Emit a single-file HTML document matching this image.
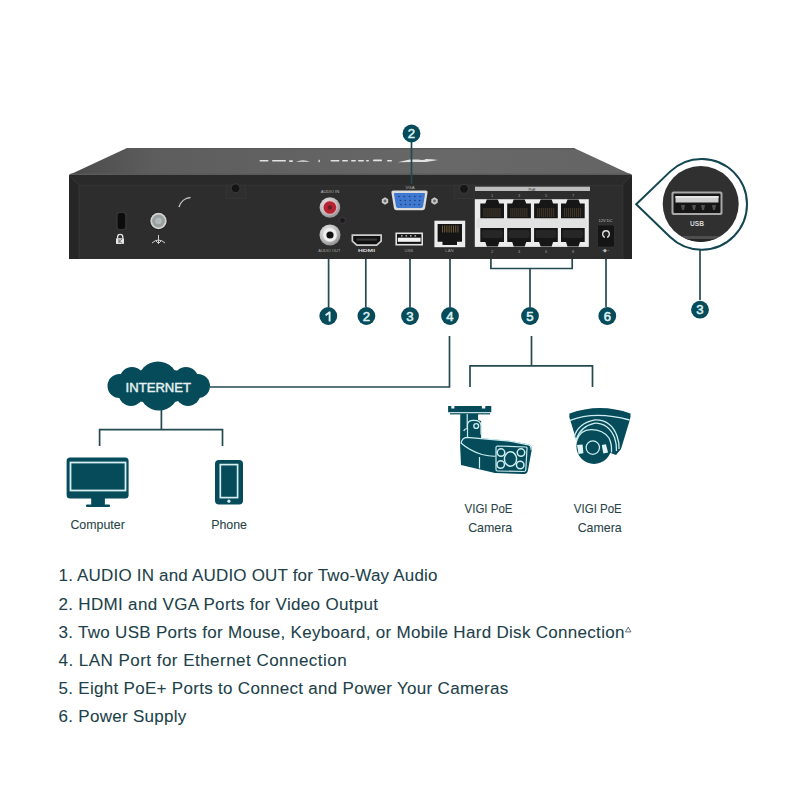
<!DOCTYPE html>
<html><head><meta charset="utf-8">
<style>
html,body{margin:0;padding:0;background:#fff;width:800px;height:800px;overflow:hidden}
svg{display:block;font-family:"Liberation Sans",sans-serif}
</style></head>
<body>
<svg width="800" height="800" viewBox="0 0 800 800">
<defs>
  <linearGradient id="topg" x1="0" y1="0" x2="1" y2="0">
    <stop offset="0" stop-color="#4a4a4a"/><stop offset="0.15" stop-color="#5d5d5d"/><stop offset="0.68" stop-color="#686868"/><stop offset="1" stop-color="#646464"/>
  </linearGradient>
  <radialGradient id="silver" cx="0.4" cy="0.35" r="0.7">
    <stop offset="0" stop-color="#f4f4f4"/><stop offset="0.6" stop-color="#bdbdbd"/><stop offset="1" stop-color="#8a8a8a"/>
  </radialGradient>
</defs>
<rect width="800" height="800" fill="#fff"/>

<!-- ============ DEVICE ============ -->
<g id="device">
  <polygon points="127,148 574,148 632,175 69,175" fill="url(#topg)"/>
  <polygon points="127,148 574,148 575,149.2 126,149.2" fill="#5a5a5a"/>
  <polygon points="71,173.5 630,173.5 632,175 69,175" fill="#5a5a5a"/>
  <rect x="69" y="175" width="563" height="84" fill="#2d2d2d"/>
  <!-- bevels -->
  <polygon points="69,175 632,175 622,185 79,185" fill="#2a2a2a"/>
  <polygon points="69,175 79,185 79,259 69,259" fill="#262626"/>
  <polygon points="632,175 622,185 622,259 632,259" fill="#242424"/>
  <line x1="79" y1="185.3" x2="622" y2="185.3" stroke="#363636" stroke-width="0.8"/>
  <line x1="79" y1="185" x2="79" y2="259" stroke="#373737" stroke-width="0.8"/>
  <line x1="622.8" y1="185" x2="622.8" y2="259" stroke="#3c3c3c" stroke-width="0.8"/>
  <line x1="69" y1="175" x2="79" y2="185" stroke="#3c3c3c" stroke-width="0.7"/>
  <line x1="632" y1="175" x2="622" y2="185" stroke="#3c3c3c" stroke-width="0.7"/>
  <!-- logo on top -->
  <g fill="#e2e2e2">
    <rect x="259.5" y="160" width="9" height="1.6" rx="0.8"/>
    <rect x="272" y="160" width="14" height="1.6" rx="0.8"/>
    <rect x="289" y="160.3" width="4" height="1.6" rx="0.8"/>
    <path d="M296,161.8 q7,-3 14,0 z"/>
    <rect x="318.5" y="159.8" width="1.3" height="2.4"/>
    <rect x="330.5" y="160" width="9" height="1.6" rx="0.8"/>
    <rect x="342" y="160" width="6" height="1.6" rx="0.8"/>
    <rect x="351" y="160" width="5" height="1.6" rx="0.8"/>
    <rect x="358" y="160" width="6" height="1.6" rx="0.8"/>
    <rect x="366" y="160" width="3" height="1.6" rx="0.8"/>
    <rect x="373" y="159.5" width="9" height="1.8" rx="0.8"/>
    <rect x="387" y="160" width="5" height="1.6" rx="0.8"/>
    <path d="M398,162.2 q6,-1.5 12,-2.6 h8 q6,0.8 8,-0.6 q6,0.2 12,1 q-6,0.8 -12,2 h-14 z"/>
  </g>
  <!-- screw tabs top -->
  <rect x="226" y="185" width="20" height="13.5" fill="#2f2f2f" stroke="#393939" stroke-width="0.6"/>
  <circle cx="235.6" cy="188.3" r="4.4" fill="#151515" stroke="#404040" stroke-width="0.8"/>
  <rect x="454" y="185" width="20" height="13.5" fill="#2f2f2f" stroke="#393939" stroke-width="0.6"/>
  <circle cx="464" cy="188.8" r="4.4" fill="#151515" stroke="#404040" stroke-width="0.8"/>
  <!-- kensington -->
  <rect x="116" y="211.5" width="11" height="19" rx="3" fill="#333"/>
  <rect x="117.7" y="213.1" width="7.4" height="15.8" rx="2.5" fill="#0c0c0c"/>
  <path d="M117.6,238.5 v-1.6 a2.6,2.6 0 0 1 5.2,0 v1.6" fill="none" stroke="#e4e4e4" stroke-width="1.3"/>
  <rect x="116" y="238.3" width="8" height="5.6" rx="0.6" fill="#e4e4e4"/>
  <path d="M119,239.2 v4 M122,239 l-2.5,2 l2.5,2.5" fill="none" stroke="#444" stroke-width="0.8"/>
  <!-- ground screw -->
  <circle cx="158.5" cy="221" r="9.2" fill="#222"/>
  <circle cx="158.5" cy="221" r="8.2" fill="#d2d2d2"/>
  <circle cx="158.5" cy="221" r="6.4" fill="#98a0a0"/>
  <circle cx="158.5" cy="221" r="3.2" fill="#b4baba"/>
  <path d="M158.5,235 v8.5 M152,243 q6.5,-6 13,0 M155.8,240.8 l2.7,2.7 l2.7,-2.7" fill="none" stroke="#cfcfcf" stroke-width="1"/>
  <path d="M179,207 a13,13 0 0 1 11.5,-9.5" fill="none" stroke="#c4c4c4" stroke-width="1.4"/>

  <!-- audio -->
  <text x="330" y="193.3" font-size="4.3" fill="#b8b8b8" text-anchor="middle" textLength="18.5" lengthAdjust="spacingAndGlyphs">AUDIO IN</text>
  <circle cx="329.9" cy="207.5" r="10.3" fill="url(#silver)"/>
  <circle cx="329.9" cy="207.5" r="7.2" fill="#e9b5b9"/>
  <circle cx="329.9" cy="207.5" r="6.3" fill="#b62434"/>
  <circle cx="329.9" cy="207.5" r="2.2" fill="#6a2020"/>
  <circle cx="342.4" cy="220.4" r="3" fill="#1a1a1a" stroke="#4a3d4a" stroke-width="0.8"/>
  <circle cx="330" cy="235" r="10.5" fill="url(#silver)"/>
  <circle cx="330" cy="235" r="6.8" fill="#f0f0f0"/>
  <circle cx="330" cy="235" r="3.6" fill="#121212"/>
  <text x="329.3" y="252.4" font-size="4.3" fill="#aaa" text-anchor="middle" textLength="22" lengthAdjust="spacingAndGlyphs">AUDIO OUT</text>

  <!-- VGA -->
  <text x="410" y="189" font-size="4.3" fill="#b8b8b8" text-anchor="middle">VGA</text>
  <path d="M393.5,190.6 h32 q2.4,0 2,2.4 l-2.4,15 q-0.4,2.3 -2.6,2.3 h-26 q-2.2,0 -2.6,-2.3 l-2.4,-15 q-0.4,-2.4 2,-2.4 z" fill="#dcdcdc"/>
  <path d="M395,193 h29 q1.2,0 1,1.2 l-2,12.4 q-0.3,1.4 -1.6,1.4 h-23.8 q-1.3,0 -1.6,-1.4 l-2,-12.4 q-0.2,-1.2 1,-1.2 z" fill="#3f78d0"/>
  <g fill="#1d3f7a">
    <circle cx="399" cy="196.5" r="0.8"/><circle cx="404.3" cy="196.5" r="0.8"/><circle cx="409.6" cy="196.5" r="0.8"/><circle cx="414.9" cy="196.5" r="0.8"/><circle cx="420.2" cy="196.5" r="0.8"/>
    <circle cx="400.5" cy="200.5" r="0.8"/><circle cx="405.3" cy="200.5" r="0.8"/><circle cx="410.1" cy="200.5" r="0.8"/><circle cx="414.9" cy="200.5" r="0.8"/><circle cx="419.7" cy="200.5" r="0.8"/>
    <circle cx="401" cy="204.5" r="0.8"/><circle cx="405.5" cy="204.5" r="0.8"/><circle cx="410" cy="204.5" r="0.8"/><circle cx="414.5" cy="204.5" r="0.8"/><circle cx="419" cy="204.5" r="0.8"/>
  </g>
  <polygon points="385,197.3 388.2,199.2 388.2,202.8 385,204.7 381.8,202.8 381.8,199.2" fill="#c9c9c9"/>
  <circle cx="385" cy="201" r="1.4" fill="#6a6a6a"/>
  <polygon points="434.5,197.3 437.7,199.2 437.7,202.8 434.5,204.7 431.3,202.8 431.3,199.2" fill="#c9c9c9"/>
  <circle cx="434.5" cy="201" r="1.4" fill="#6a6a6a"/>

  <!-- HDMI -->
  <path d="M351.5,234.2 h30.5 v7.2 l-5,4.5 h-20.5 l-5,-4.5 z" fill="#cdcdcd"/>
  <path d="M353.2,235.9 h27.1 v4.8 l-4,3.6 h-19.1 l-4,-3.6 z" fill="#101010"/>
  <rect x="356.5" y="238.5" width="20.5" height="2.2" fill="#3a3a3a"/>
  <text x="366.5" y="252.2" font-size="4.2" font-weight="bold" fill="#dedede" text-anchor="middle" textLength="17" lengthAdjust="spacingAndGlyphs">HDMI</text>

  <!-- USB -->
  <rect x="395.4" y="232.5" width="27.6" height="13" fill="#e2e2e2"/>
  <rect x="397" y="234.1" width="24.4" height="9.8" fill="#121212"/>
  <rect x="397.8" y="237.7" width="22.8" height="4.1" fill="#f2f2f2"/>
  <g fill="#d8d8d8"><rect x="401" y="235.3" width="1.6" height="1.2"/><rect x="405.5" y="235.3" width="1.6" height="1.2"/><rect x="410" y="235.3" width="1.6" height="1.2"/><rect x="414.5" y="235.3" width="1.6" height="1.2"/></g>
  <text x="408.8" y="252.2" font-size="4.3" fill="#999" text-anchor="middle">USB</text>

  <!-- LAN -->
  <rect x="434.4" y="220.7" width="30.8" height="26.5" fill="#ececec"/>
  <path d="M437.6,224 h24.4 v17.8 h-5 v3.2 h-14.5 v-3.2 h-4.9 z" fill="#151515"/>
  <g fill="#6d5a35"><rect x="442" y="225.5" width="1" height="7"/><rect x="444.2" y="225.5" width="1" height="7"/><rect x="446.4" y="225.5" width="1" height="7"/><rect x="448.6" y="225.5" width="1" height="7"/><rect x="450.8" y="225.5" width="1" height="7"/><rect x="453" y="225.5" width="1" height="7"/><rect x="455.2" y="225.5" width="1" height="7"/><rect x="457.4" y="225.5" width="1" height="7"/></g>
  <text x="449.5" y="252.2" font-size="4.3" fill="#999" text-anchor="middle">LAN</text>

  <!-- PoE -->
  <rect x="475" y="186.7" width="115" height="4.3" fill="#bdbdbd"/>
  <text x="532" y="190.5" font-size="3.8" fill="#333" text-anchor="middle">PoE</text>
  <rect x="474.8" y="199.2" width="114" height="47.7" fill="#ececec"/>
  <rect x="476.5" y="218.5" width="110.5" height="9.5" fill="#e2e2e2"/>
  <g id="jacks" fill="#161616">
    <path d="M480.3,203.6 h5 l1.5,-4.2 h11 l1.5,4.2 h4.7 v14.6 h-23.7 z"/>
    <path d="M507.2,203.6 h5 l1.5,-4.2 h11 l1.5,4.2 h4.7 v14.6 h-23.7 z"/>
    <path d="M534.1,203.6 h5 l1.5,-4.2 h11 l1.5,4.2 h4.7 v14.6 h-23.7 z"/>
    <path d="M561,203.6 h5 l1.5,-4.2 h11 l1.5,4.2 h4.7 v14.6 h-23.7 z"/>
    <path d="M480.3,228 h23.7 v14 h-4.7 l-1.5,4.5 h-11 l-1.5,-4.5 h-5 z"/>
    <path d="M507.2,228 h23.7 v14 h-4.7 l-1.5,4.5 h-11 l-1.5,-4.5 h-5 z"/>
    <path d="M534.1,228 h23.7 v14 h-4.7 l-1.5,4.5 h-11 l-1.5,-4.5 h-5 z"/>
    <path d="M561,228 h23.7 v14 h-4.7 l-1.5,4.5 h-11 l-1.5,-4.5 h-5 z"/>
  </g>
  <g fill="#4a3f30">
    <rect x="483.5" y="208" width="0.9" height="9"/>
    <rect x="485.5" y="208" width="0.9" height="9"/>
    <rect x="487.5" y="208" width="0.9" height="9"/>
    <rect x="489.5" y="208" width="0.9" height="9"/>
    <rect x="491.5" y="208" width="0.9" height="9"/>
    <rect x="493.5" y="208" width="0.9" height="9"/>
    <rect x="495.5" y="208" width="0.9" height="9"/>
    <rect x="497.5" y="208" width="0.9" height="9"/>
    <rect x="499.5" y="208" width="0.9" height="9"/>
    <rect x="510.4" y="208" width="0.9" height="9"/>
    <rect x="512.4" y="208" width="0.9" height="9"/>
    <rect x="514.4" y="208" width="0.9" height="9"/>
    <rect x="516.4" y="208" width="0.9" height="9"/>
    <rect x="518.4" y="208" width="0.9" height="9"/>
    <rect x="520.4" y="208" width="0.9" height="9"/>
    <rect x="522.4" y="208" width="0.9" height="9"/>
    <rect x="524.4" y="208" width="0.9" height="9"/>
    <rect x="526.4" y="208" width="0.9" height="9"/>
    <rect x="537.3" y="208" width="0.9" height="9"/>
    <rect x="539.3" y="208" width="0.9" height="9"/>
    <rect x="541.3" y="208" width="0.9" height="9"/>
    <rect x="543.3" y="208" width="0.9" height="9"/>
    <rect x="545.3" y="208" width="0.9" height="9"/>
    <rect x="547.3" y="208" width="0.9" height="9"/>
    <rect x="549.3" y="208" width="0.9" height="9"/>
    <rect x="551.3" y="208" width="0.9" height="9"/>
    <rect x="553.3" y="208" width="0.9" height="9"/>
    <rect x="564.2" y="208" width="0.9" height="9"/>
    <rect x="566.2" y="208" width="0.9" height="9"/>
    <rect x="568.2" y="208" width="0.9" height="9"/>
    <rect x="570.2" y="208" width="0.9" height="9"/>
    <rect x="572.2" y="208" width="0.9" height="9"/>
    <rect x="574.2" y="208" width="0.9" height="9"/>
    <rect x="576.2" y="208" width="0.9" height="9"/>
    <rect x="578.2" y="208" width="0.9" height="9"/>
    <rect x="580.2" y="208" width="0.9" height="9"/>
  </g>
  <g fill="#262626">
    <rect x="481.8" y="230" width="20.7" height="8" rx="2"/>
    <rect x="508.7" y="230" width="20.7" height="8" rx="2"/>
    <rect x="535.6" y="230" width="20.7" height="8" rx="2"/>
    <rect x="562.5" y="230" width="20.7" height="8" rx="2"/>
  </g>
  <g font-size="4" fill="#999" text-anchor="middle">
    <text x="492" y="196.5">1</text><text x="519" y="196.5">3</text><text x="546" y="196.5">5</text><text x="573" y="196.5">7</text>
    <text x="492" y="252.5">2</text><text x="519" y="252.5">4</text><text x="546" y="252.5">6</text><text x="573" y="252.5">8</text>
  </g>

  <!-- power -->
  <text x="605.5" y="222" font-size="4" fill="#bbb" text-anchor="middle">12V DC</text>
  <rect x="597.5" y="225" width="17" height="22" rx="1.5" fill="#151515" stroke="#3a3a3a" stroke-width="0.6"/>
  <circle cx="606" cy="234" r="3.3" fill="#222" stroke="#e0e0e0" stroke-width="1.4"/><rect x="605" y="236" width="2" height="3" fill="#151515"/>
  <text x="605.5" y="252" font-size="4.5" fill="#bbb" text-anchor="middle">-◆-</text>
</g>

<!-- ============ CALLOUTS ============ -->
<g stroke="#244a4f" stroke-width="1.7" fill="none">
  <line x1="411.5" y1="142" x2="411.5" y2="184"/>
  <line x1="328.6" y1="259" x2="328.6" y2="307"/>
  <line x1="365.8" y1="259" x2="365.8" y2="307"/>
  <line x1="410" y1="259" x2="410" y2="307"/>
  <line x1="450" y1="259" x2="450" y2="307"/>
  <path d="M490.9,259 V268.5 H572.2 V259"/>
  <line x1="530" y1="268.5" x2="530" y2="307"/>
  <line x1="606" y1="259" x2="606" y2="307"/>
  <line x1="700" y1="249" x2="700" y2="300"/>
  <!-- lower tree -->
  <path d="M210,387 H449.5 V336"/>
  <path d="M161.4,410 V429.6 M99.6,446 V429.6 H222.5 V446"/>
  <path d="M531.5,336 V365.8 M470,387 V365.8 H592.5 V387"/>
</g>

<!-- inset -->
<path d="M636.2,204.3 L670.1,171.6 A45.4,45.4 0 1 1 670.1,237 Z" fill="#fff" stroke="#124650" stroke-width="2"/>
<clipPath id="insc"><circle cx="700.7" cy="204" r="38"/></clipPath>
<circle cx="700.7" cy="204" r="38" fill="#303030"/>
<g clip-path="url(#insc)">
  <rect x="660" y="236" width="82" height="3" fill="#4e4e4e"/>
  <rect x="660" y="239" width="82" height="6" fill="#262626"/>
</g>
<rect x="671.5" y="191.5" width="51" height="23.5" rx="2" fill="#a8a8a8"/>
<rect x="673.5" y="193.5" width="47" height="19.5" rx="1" fill="#161616"/>
<rect x="675.5" y="196" width="43" height="6.5" fill="#cfcfcf"/>
<rect x="675.5" y="196" width="43" height="2" fill="#e6e6e6"/>
<g fill="#505050">
  <path d="M681,205 h4 l-1,5 h-2 z"/><path d="M692,205 h4 l-1,5 h-2 z"/><path d="M701,205 h4 l-1,5 h-2 z"/><path d="M712,205 h4 l-1,5 h-2 z"/>
</g>
<text x="697" y="226" font-size="6.6" font-weight="bold" fill="#d6d6d6" text-anchor="middle">USB</text>

<!-- number circles -->
<g fill="#054b5a">
  <circle cx="411.5" cy="133.5" r="8.9"/>
  <circle cx="328.3" cy="316" r="8.9"/>
  <circle cx="366.4" cy="316" r="8.9"/>
  <circle cx="410" cy="316" r="8.9"/>
  <circle cx="450" cy="316" r="8.9"/>
  <circle cx="530" cy="316" r="8.9"/>
  <circle cx="607.3" cy="316" r="8.9"/>
  <circle cx="700" cy="309.7" r="8.9"/>
</g>
<g fill="#dff3f5" stroke="#dff3f5" stroke-width="0.55" font-size="13.2" text-anchor="middle">
  <text x="411.5" y="138.4">2</text>
  <text x="366.4" y="320.5">2</text>
  <text x="410" y="320.5">3</text>
  <text x="450" y="320.5">4</text>
  <text x="530" y="320.5">5</text>
  <text x="607.3" y="320.5">6</text>
  <text x="700" y="314.2">3</text>
</g>

<path d="M325.6,315.2 L329.6,312.3 V321.4" fill="none" stroke="#dff3f5" stroke-width="1.9" stroke-linejoin="round"/>
<!-- ============ CLOUD ============ -->
<g fill="#054b5a">
  <ellipse cx="158.5" cy="386" rx="44" ry="17"/>
  <circle cx="119.5" cy="386" r="12"/>
  <circle cx="132" cy="379.5" r="12.5"/>
  <circle cx="158" cy="381.4" r="20"/>
  <circle cx="186" cy="379.5" r="12.5"/>
  <circle cx="198" cy="386" r="12"/>
  <circle cx="131" cy="393.5" r="12.5"/>
  <circle cx="159" cy="390.4" r="20"/>
  <circle cx="188" cy="393.5" r="12.5"/>
</g>
<text x="158.3" y="391.8" font-size="13.6" fill="#e6f2f2" stroke="#e6f2f2" stroke-width="0.45" text-anchor="middle" textLength="65.5" lengthAdjust="spacingAndGlyphs">INTERNET</text>

<!-- ============ COMPUTER / PHONE ============ -->
<rect x="66.6" y="457.5" width="62" height="41" rx="3.5" fill="#054b5a"/>
<rect x="70.5" y="462.5" width="55" height="28" fill="none" stroke="#d5eef0" stroke-width="1.8"/>
<rect x="91.2" y="498" width="13.7" height="7.5" fill="#054b5a"/>
<rect x="86" y="504.5" width="24" height="2.6" rx="1" fill="#054b5a"/>
<rect x="215" y="460" width="28" height="44.4" rx="4" fill="#054b5a"/>
<rect x="220.3" y="464.6" width="17.3" height="33" fill="none" stroke="#d5eef0" stroke-width="1.7"/>
<circle cx="228.9" cy="501.2" r="1.6" fill="#d5eef0"/>
<g font-size="12.4" fill="#284449" stroke="#284449" stroke-width="0.08" text-anchor="middle">
  <text x="97.6" y="529.3">Computer</text>
  <text x="229.1" y="529.3">Phone</text>
  <text x="488.5" y="512.8" textLength="48" lengthAdjust="spacingAndGlyphs">VIGI PoE</text>
  <text x="490.2" y="531.8">Camera</text>
  <text x="597.8" y="512.8" textLength="48" lengthAdjust="spacingAndGlyphs">VIGI PoE</text>
  <text x="599.7" y="531.8">Camera</text>
</g>

<!-- ============ CAMERAS ============ -->
<g id="bullet">
  <!-- mount plate -->
  <path d="M448.1,405.9 h3.2 v2.5 h3.1 v-2.5 h27.5 v2.5 h3.4 v-2.5 h6 v6.3 h-43.2 z" fill="#054b5a"/>
  <rect x="449.5" y="412.2" width="41" height="1" fill="#bfe3e6"/>
  <rect x="450" y="413.2" width="40" height="1.2" fill="#054b5a"/>
  <!-- arm -->
  <path d="M460.3,414 h17.8 v6 l3,1 v18 h-16 l-5,5 z" fill="#054b5a"/>
  <path d="M467.2,414 v14.5 q-3,0.5 -3.5,2.5" fill="none" stroke="#cdeef0" stroke-width="1.2"/>
  <path d="M467.5,437 v-12 q0,-4.5 6,-4.6 q7,-0.2 7.5,5 v9" fill="none" stroke="#cdeef0" stroke-width="1.2"/>
  <circle cx="476.2" cy="426" r="2.4" fill="none" stroke="#cdeef0" stroke-width="1.4"/>
  <!-- body -->
  <path d="M460,443 Q460,437 466,436.8 L511,441 L529,444.5 Q532.5,446 531.5,451 L528,470 Q527.5,474 524,474 L495,473 L480,469.5 L461,465 Z" fill="#054b5a"/>
  <path d="M461,443.5 Q462,437.5 467,437.3 L511,441.3 L528.5,444.8 Q531.8,446.3 531,450" fill="none" stroke="#cdeef0" stroke-width="1.2"/>
  <path d="M461,443 Q470,451 482,454.5 Q490,456.5 495.5,456.2" fill="none" stroke="#cdeef0" stroke-width="1.2"/>
  <path d="M479.5,457 V468.5" fill="none" stroke="#cdeef0" stroke-width="1.2"/>
  <path d="M497.5,446 L526,447 Q527.2,447.2 527,448.5 L525.8,470 Q525.6,471.5 524,471.5 L497.5,471 Q496,471 496,469.5 V447.5 Q496,446 497.5,446 Z" fill="none" stroke="#cdeef0" stroke-width="1.2"/>
  <ellipse cx="510.5" cy="459" rx="6.1" ry="7.2" fill="none" stroke="#cdeef0" stroke-width="1.5"/>
  <circle cx="501" cy="452.6" r="3.75" fill="none" stroke="#cdeef0" stroke-width="1.5"/>
  <circle cx="521" cy="452.6" r="3.75" fill="none" stroke="#cdeef0" stroke-width="1.5"/>
  <circle cx="500.7" cy="464.6" r="3.75" fill="none" stroke="#cdeef0" stroke-width="1.5"/>
  <circle cx="520.2" cy="465" r="3.75" fill="none" stroke="#cdeef0" stroke-width="1.5"/>
</g>
<g id="dome">
  <path d="M569.5,413.5 Q600,402.5 630.5,413.5 Q631,417 629.5,421 L621,449 L616,455 L594,447 L576,439 L570.5,421 Q568.5,417 569.5,413.5 Z" fill="#054b5a"/>
  <circle cx="594" cy="446.3" r="17.6" fill="#054b5a"/>
  <path d="M569.5,420.6 Q595,410.5 629.5,420" fill="none" stroke="#cdeef0" stroke-width="1.3"/>
  <path d="M574,437.5 Q578,423 595,419.9 Q611,419.5 617,436 Q619.5,443 619,449" fill="none" stroke="#cdeef0" stroke-width="1.3"/>
  <path d="M576,440 Q580.5,426 595,423.1 Q608.5,423 614.5,437.5 Q616.8,444 616.5,451" fill="none" stroke="#cdeef0" stroke-width="1.3"/>
  <path d="M576.3,441 Q580,429.8 591,429.6 Q603,429.5 609,438 Q612,444 611.5,452.5" fill="none" stroke="#cdeef0" stroke-width="1.3"/>
  <circle cx="592.8" cy="447.6" r="6.7" fill="none" stroke="#cdeef0" stroke-width="1.3"/>
  <path d="M577,445 L582.6,444.5 L583.4,453.2 L578.5,454 Z" fill="#e2f4f5"/>
  <path d="M601.8,445 L605.9,444.3 L608.1,452.5 L603.3,453.6 Z" fill="#e2f4f5"/>
</g>

<!-- ============ LIST ============ -->
<g font-size="17" fill="#21414a" stroke="#21414a" stroke-width="0.08">
  <text letter-spacing="0.19" x="58.5" y="581.4">1. AUDIO IN and AUDIO OUT for Two-Way Audio</text>
  <text letter-spacing="0.32" x="58.5" y="609.6">2. HDMI and VGA Ports for Video Output</text>
  <text letter-spacing="0.3" x="58.5" y="637.9">3. Two USB Ports for Mouse, Keyboard, or Mobile Hard Disk Connection</text>
  <text letter-spacing="0.47" x="58.5" y="666.1">4. LAN Port for Ethernet Connection</text>
  <text letter-spacing="0.3" x="58.5" y="694.3">5. Eight PoE+ Ports to Connect and Power Your Cameras</text>
  <text letter-spacing="0.29" x="58.5" y="722.4">6. Power Supply</text>
</g>
<path d="M625.5,631.9 l2.7,-4.8 l2.7,4.8 z" fill="none" stroke="#1f3a40" stroke-width="0.7"/>
</svg>
</body></html>
